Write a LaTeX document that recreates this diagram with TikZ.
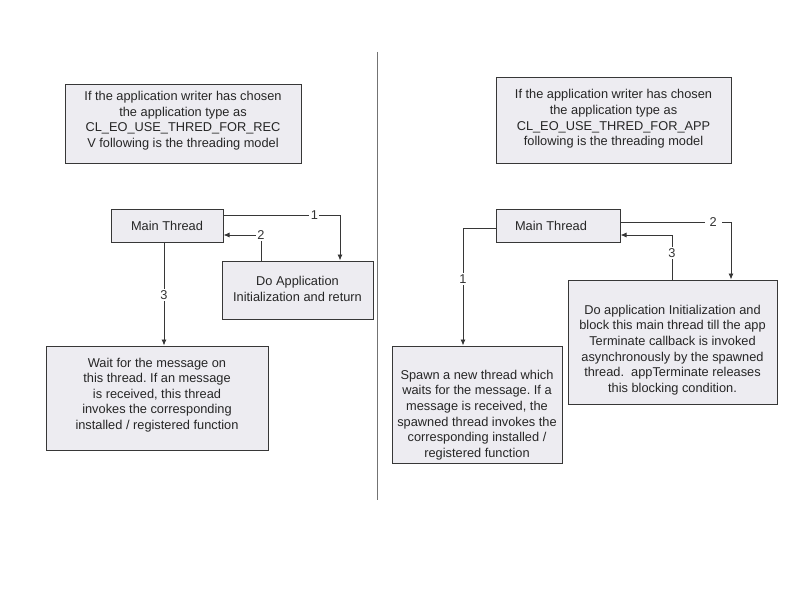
\documentclass[tikz,border=0pt]{standalone}
\usepackage{fontspec}
\setmainfont{Liberation Sans}
\usetikzlibrary{arrows.meta}
\definecolor{boxfill}{RGB}{237,236,241}
\definecolor{boxline}{RGB}{55,55,55}
\tikzset{
  box/.style={draw=boxline, fill=boxfill, line width=1pt, inner sep=0pt},
  txt/.style={align=center, inner sep=0pt, text=black!85,
    font=\fontsize{12.8}{15.6}\selectfont\frenchspacing},
  arr/.style={draw=boxline, line width=0.9pt, -{Latex[length=6pt,width=5pt]}},
  lbl/.style={fill=white, inner sep=1.5pt, font=\fontsize{12.8}{14}\selectfont, text=black!80},
}
\begin{document}
\begin{tikzpicture}[x=1pt,y=-1pt]
\useasboundingbox (0,0) rectangle (795,599);
\fill[white] (0,0) rectangle (795,599);
% divider
\draw[black!55, line width=1.8pt] (377.5,52) -- (377.5,500);
% left side
\node[box, minimum width=236pt, minimum height=78pt,
  label={[txt, yshift=3.5pt]center:{If the application writer has chosen\\the application type as\\CL\_EO\_USE\_THRED\_FOR\_REC\\V following is the threading model}}] (ltop) at (183,124) {};
\node[box, minimum width=112pt, minimum height=33pt,
  label={[txt]center:Main Thread}] (lmain) at (167,225.5) {};
\node[box, minimum width=151pt, minimum height=58pt,
  label={[txt, yshift=1pt]center:{Do Application\\Initialization and return}}] (ldo) at (297.5,290) {};
\node[box, minimum width=222pt, minimum height=104pt,
  label={[txt, yshift=3pt]center:{Wait for the message on\\this thread. If an message\\is received, this thread\\invokes the corresponding\\installed / registered function}}] (wait) at (157,398) {};
\draw[arr] ([yshift=10.5pt]lmain.east) -| node[lbl, pos=0.39] {1} ([xshift=42.5pt]ldo.north);
\draw[arr] ([xshift=-36.5pt]ldo.north) |- node[lbl, pos=0.5] {2} ([yshift=-9.5pt]lmain.east);
\draw[arr] ([xshift=-3pt]lmain.south) -- node[lbl, pos=0.51] {3} ([xshift=-3pt]lmain.south |- wait.north);
% right side
\node[box, minimum width=235pt, minimum height=85pt,
  label={[txt, yshift=1.5pt]center:{If the application writer has chosen\\the application type as\\CL\_EO\_USE\_THRED\_FOR\_APP\\following is the threading model}}] (rtop) at (613.5,120.5) {};
\node[box, minimum width=124pt, minimum height=33pt,
  label={[txt, xshift=-7pt]center:Main Thread}] (rmain) at (558,225.5) {};
\node[box, minimum width=170pt, minimum height=117pt,
  label={[txt, yshift=-10.5pt]center:{Spawn a new thread which\\waits for the message. If a\\message is received, the\\spawned thread invokes the\\corresponding installed /\\registered function}}] (spawn) at (477,404.5) {};
\node[box, minimum width=209pt, minimum height=124pt,
  label={[txt, yshift=-8pt]center:{Do application Initialization and\\block this main thread till the app\\Terminate callback is invoked\\asynchronously by the spawned\\thread.\ \ appTerminate releases\\this blocking condition.}}] (rdo) at (672.5,342) {};
\draw[arr] ([yshift=-2.5pt]rmain.west) -| node[lbl, pos=0.716] {1} ([xshift=-14pt]spawn.north);
\draw[arr] ([yshift=3.5pt]rmain.east) -| node[lbl, pos=0.419, inner xsep=5pt] {2} ([xshift=58.5pt]rdo.north);
\draw[arr] ([xshift=-0.5pt]rdo.north) |- node[lbl, pos=0.30] {3} ([yshift=-9.5pt]rmain.east);
\end{tikzpicture}
\end{document}
